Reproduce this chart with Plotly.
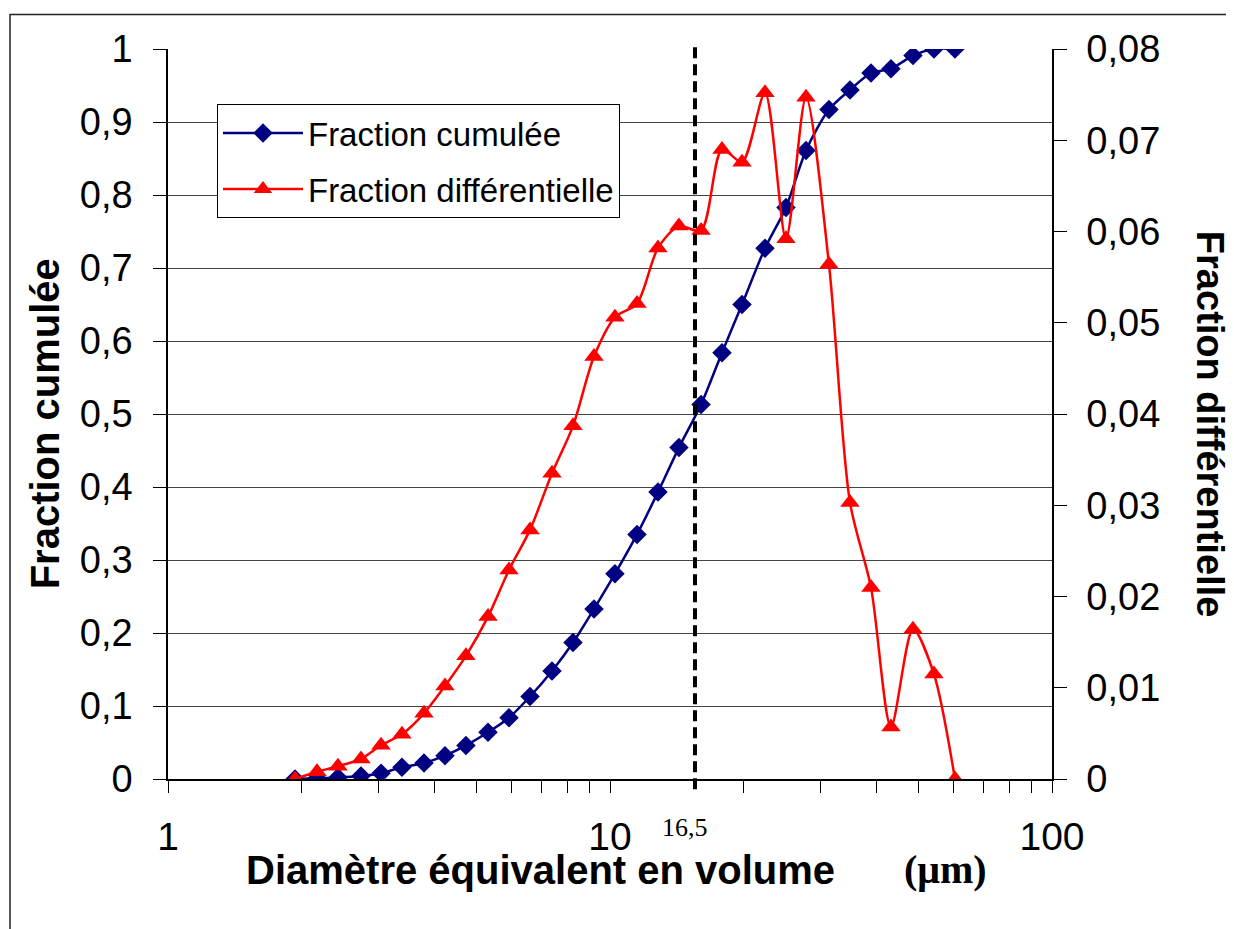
import math
import plotly.graph_objects as go

# ---- data ----
diametre = [1.938, 2.173, 2.424, 2.733, 3.034, 3.383, 3.795, 4.233, 4.722, 5.297,
            5.908, 6.592, 7.393, 8.248, 9.200, 10.26, 11.51, 12.84, 14.32, 16.07,
            17.92, 19.89, 22.42, 25.01, 27.76, 31.29, 34.91, 38.95, 43.22, 48.47,
            54.07, 60.32]
fraction_cumulee = [0.000, 0.001, 0.002, 0.004, 0.008, 0.016, 0.022, 0.032, 0.046, 0.064,
                    0.084, 0.113, 0.148, 0.187, 0.233, 0.281, 0.335, 0.393, 0.454, 0.513,
                    0.584, 0.650, 0.727, 0.783, 0.861, 0.917, 0.944, 0.967, 0.973, 0.991,
                    1.000, 1.000]
fraction_diff = [0.0, 0.0008, 0.0014, 0.0022, 0.0037, 0.0049, 0.0072, 0.0102, 0.0135, 0.0178,
                 0.0229, 0.0273, 0.0335, 0.0387, 0.0463, 0.0506, 0.0521, 0.0582, 0.0606, 0.0601,
                 0.0690, 0.0676, 0.0752, 0.0592, 0.0747, 0.0564, 0.0303, 0.0210, 0.0057, 0.0164,
                 0.0115, 0.0]
d50_position = 15.57
d50_label = "16,5"

left_tickvals = [0, 0.1, 0.2, 0.3, 0.4, 0.5, 0.6, 0.7, 0.8, 0.9, 1]
left_ticktext = ["0", "0,1", "0,2", "0,3", "0,4", "0,5", "0,6", "0,7", "0,8", "0,9", "1"]
right_tickvals = [0, 0.01, 0.02, 0.03, 0.04, 0.05, 0.06, 0.07, 0.08]
right_ticktext = ["0", "0,01", "0,02", "0,03", "0,04", "0,05", "0,06", "0,07", "0,08"]
x_tickvals = [1, 2, 3, 4, 5, 6, 7, 8, 9, 10, 20, 30, 40, 50, 60, 70, 80, 90, 100]
x_ticktext = ["1", "", "", "", "", "", "", "", "", "10", "", "", "", "", "", "", "", "", "100"]

SANS = "Liberation Sans, Arial, sans-serif"
SERIF = "Liberation Serif, Times New Roman, serif"

fig = go.Figure()
fig.add_trace(go.Scatter(
    x=diametre, y=fraction_cumulee, name="Fraction cumulée", legendgroup="a",
    mode="lines+markers", line=dict(color="#000080", width=2.5, shape="spline", smoothing=0.8),
    marker=dict(symbol="diamond", size=15, color="#000080"),
))
fig.add_trace(go.Scatter(
    x=diametre, y=fraction_diff, name="Fraction différentielle", legendgroup="b",
    mode="lines+markers", yaxis="y2",
    line=dict(color="#ff0000", width=2.5, shape="spline", smoothing=0.8),
    marker=dict(symbol="triangle-up", size=17, color="#ff0000"),
))

# dashed vertical line
fig.add_shape(type="line", xref="x", yref="paper", x0=d50_position, x1=d50_position,
              y0=-0.014, y1=1.009, line=dict(color="black", width=4, dash="11px,6px"))
# outer chart border
fig.add_shape(type="rect", xref="paper", yref="paper", x0=-0.1787, x1=1.215,
              y0=-0.23, y1=1.0473, line=dict(color="#222", width=1.5))

annotations = [
    dict(x=math.log10(d50_position), y=-0.067, xref="x", yref="paper", text=d50_label,
         showarrow=False, xshift=-10, font=dict(family=SERIF, size=26, color="black"),
         xanchor="center", yanchor="middle"),
    dict(x=0.421, y=-0.124, xref="paper", yref="paper", text="<b>Diamètre équivalent en volume</b>",
         showarrow=False, font=dict(family=SANS, size=40, color="black"),
         xanchor="center", yanchor="middle"),
    dict(x=0.879, y=-0.124, xref="paper", yref="paper", text="<b>(μm)</b>",
         showarrow=False, font=dict(family=SERIF, size=40, color="black"),
         xanchor="center", yanchor="middle"),
    dict(x=-0.139, y=0.486, xref="paper", yref="paper", text="<b>Fraction cumulée</b>",
         showarrow=False, textangle=-90, font=dict(family=SANS, size=40, color="black"),
         xanchor="center", yanchor="middle"),
    dict(x=1.178, y=0.486, xref="paper", yref="paper", text="<b>Fraction différentielle</b>",
         showarrow=False, textangle=90, font=dict(family=SANS, size=38, color="black"),
         xanchor="center", yanchor="middle"),
]

# page body has an 8px margin: figure is sized so the plot area lands where the reference has it
fig.update_layout(
    width=1226, height=921,
    margin=dict(l=160, r=182, t=41, b=150),
    paper_bgcolor="white", plot_bgcolor="white",
    font=dict(family=SANS, color="black"),
    annotations=annotations,
    legend=dict(x=0.0554, y=0.9246, xanchor="left", yanchor="top",
                bgcolor="white", bordercolor="black", borderwidth=1,
                font=dict(family=SANS, size=33, color="black"),
                tracegroupgap=10, itemwidth=80),
    xaxis=dict(type="log", range=[0, 2], tickvals=x_tickvals, ticktext=x_ticktext,
               ticks="outside", ticklen=12, tickcolor="black", tickwidth=1,
               showline=True, linecolor="black", linewidth=1.5, showgrid=False,
               zeroline=False, ticklabelstandoff=10,
               tickfont=dict(family=SANS, size=39, color="black")),
    yaxis=dict(range=[0, 1], tickvals=left_tickvals, ticktext=left_ticktext,
               ticks="outside", ticklen=13, tickcolor="black", tickwidth=1,
               showline=True, linecolor="black", linewidth=1.5,
               showgrid=True, gridcolor="#444", gridwidth=1, zeroline=False,
               ticklabelstandoff=13,
               tickfont=dict(family=SANS, size=38, color="black")),
    yaxis2=dict(range=[0, 0.08], tickvals=right_tickvals, ticktext=right_ticktext,
                overlaying="y", side="right",
                ticks="outside", ticklen=13, tickcolor="black", tickwidth=1,
                showline=True, linecolor="black", linewidth=1.5,
                showgrid=False, zeroline=False, ticklabelstandoff=12,
                tickfont=dict(family=SANS, size=38, color="black")),
    showlegend=True,
)

fig.write_html("out.html")
